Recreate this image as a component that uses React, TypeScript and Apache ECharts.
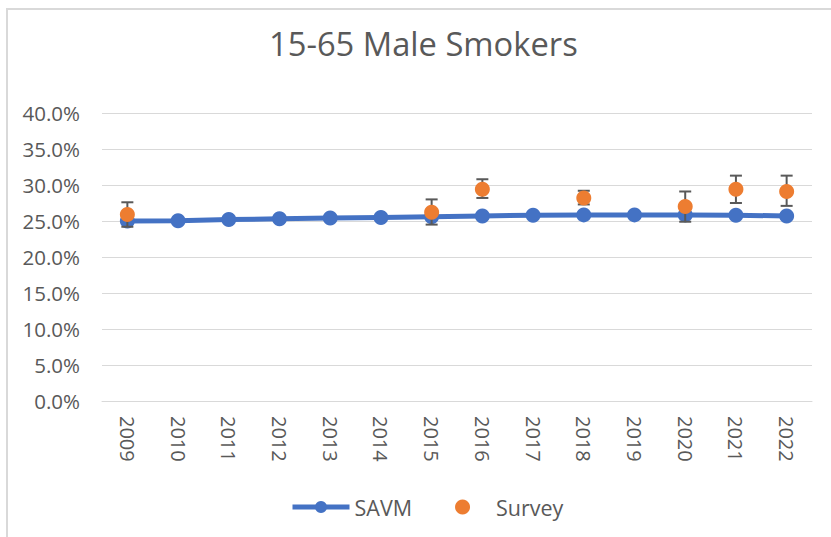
import React, { useEffect, useRef } from "react";
import * as echarts from "echarts";

const years = ["2009", "2010", "2011", "2012", "2013", "2014", "2015", "2016", "2017", "2018", "2019", "2020", "2021", "2022"];
const savm = [25.0, 25.05, 25.2, 25.3, 25.4, 25.5, 25.6, 25.7, 25.8, 25.85, 25.85, 25.85, 25.8, 25.7];
const survey = [25.9, null, null, null, null, null, 26.2, 29.4, null, 28.2, null, 27.0, 29.4, 29.1];
const surveyLow = [24.2, null, null, null, null, null, 24.5, 28.2, null, 27.3, null, 24.9, 27.5, 27.1];
const surveyHigh = [27.6, null, null, null, null, null, 28.0, 30.8, null, 29.2, null, 29.1, 31.3, 31.3];
const yTicks = { min: 0, max: 40, interval: 5 };

const FONT = "'Open Sans', sans-serif";
const GRAY = "#595959";

export default function App() {
  const ref = useRef<HTMLDivElement>(null);
  useEffect(() => {
    if (!ref.current) return;
    const chart = echarts.init(ref.current, null, { renderer: "svg" });
    const errData: any[] = [];
    years.forEach((_, i) => {
      if (surveyLow[i] != null && surveyHigh[i] != null) errData.push([i, surveyLow[i], surveyHigh[i]]);
    });
    chart.setOption({
      animation: false,
      backgroundColor: "#ffffff",
      textStyle: { fontFamily: FONT },
      graphic: [
        {
          type: "rect",
          silent: true,
          z: -10,
          shape: { x: 7, y: 9, width: 900, height: 600 },
          style: { fill: "none", stroke: "#d9d9d9", lineWidth: 2 },
        },
      ],
      title: {
        text: "15-65 Male Smokers",
        left: 269,
        top: 27,
        padding: 0,
        textStyle: { fontFamily: FONT, fontSize: 32.7, fontWeight: "normal", color: GRAY },
      },
      legend: {
        left: 290,
        top: 496,
        padding: 0,
        itemWidth: 57,
        itemHeight: 15,
        itemGap: 43,
        lineStyle: { width: 5 },
        textStyle: { fontFamily: FONT, fontSize: 21.5, color: GRAY },
        data: [{ name: "SAVM" }, { name: "Survey", icon: "circle" }],
      },
      grid: { left: 102, right: 19, top: 113, bottom: 136, containLabel: false },
      xAxis: {
        type: "category",
        data: years,
        boundaryGap: true,
        axisLine: { show: true, lineStyle: { color: "#d9d9d9", width: 1 } },
        axisTick: { show: false },
        axisLabel: { rotate: -90, fontFamily: FONT, fontSize: 20, color: GRAY, margin: 15 },
      },
      yAxis: {
        type: "value",
        min: yTicks.min,
        max: yTicks.max,
        interval: yTicks.interval,
        axisLine: { show: false },
        axisTick: { show: false },
        splitLine: { lineStyle: { color: "#d9d9d9", width: 1 } },
        axisLabel: {
          fontFamily: FONT,
          fontSize: 20.5,
          color: GRAY,
          margin: 22,
          formatter: (v: number) => v.toFixed(1) + "%",
        },
      },
      series: [
        {
          name: "SAVM",
          type: "line",
          data: savm,
          symbol: "circle",
          symbolSize: 15,
          lineStyle: { color: "#4472C4", width: 5 },
          itemStyle: { color: "#4472C4" },
          z: 2,
        },
        {
          name: "SurveyErr",
          type: "custom",
          data: errData,
          z: 3,
          renderItem: (params: any, api: any) => {
            const x = api.value(0);
            const lo = api.coord([x, api.value(1)]);
            const hi = api.coord([x, api.value(2)]);
            const hw = 6;
            const st = { stroke: "#595959", lineWidth: 2 };
            return {
              type: "group",
              children: [
                { type: "line", shape: { x1: lo[0], y1: lo[1], x2: hi[0], y2: hi[1] }, style: st },
                { type: "line", shape: { x1: lo[0] - hw, y1: lo[1], x2: lo[0] + hw, y2: lo[1] }, style: st },
                { type: "line", shape: { x1: hi[0] - hw, y1: hi[1], x2: hi[0] + hw, y2: hi[1] }, style: st },
              ],
            };
          },
        },
        {
          name: "Survey",
          type: "scatter",
          data: survey,
          symbol: "circle",
          symbolSize: 15,
          itemStyle: { color: "#ED7D31", opacity: 1 },
          z: 4,
        },
      ],
    });
    return () => chart.dispose();
  }, []);
  return (
    <div
      ref={ref}
      style={{ position: "absolute", left: 0, top: 0, width: 831, height: 537 }}
    />
  );
}
